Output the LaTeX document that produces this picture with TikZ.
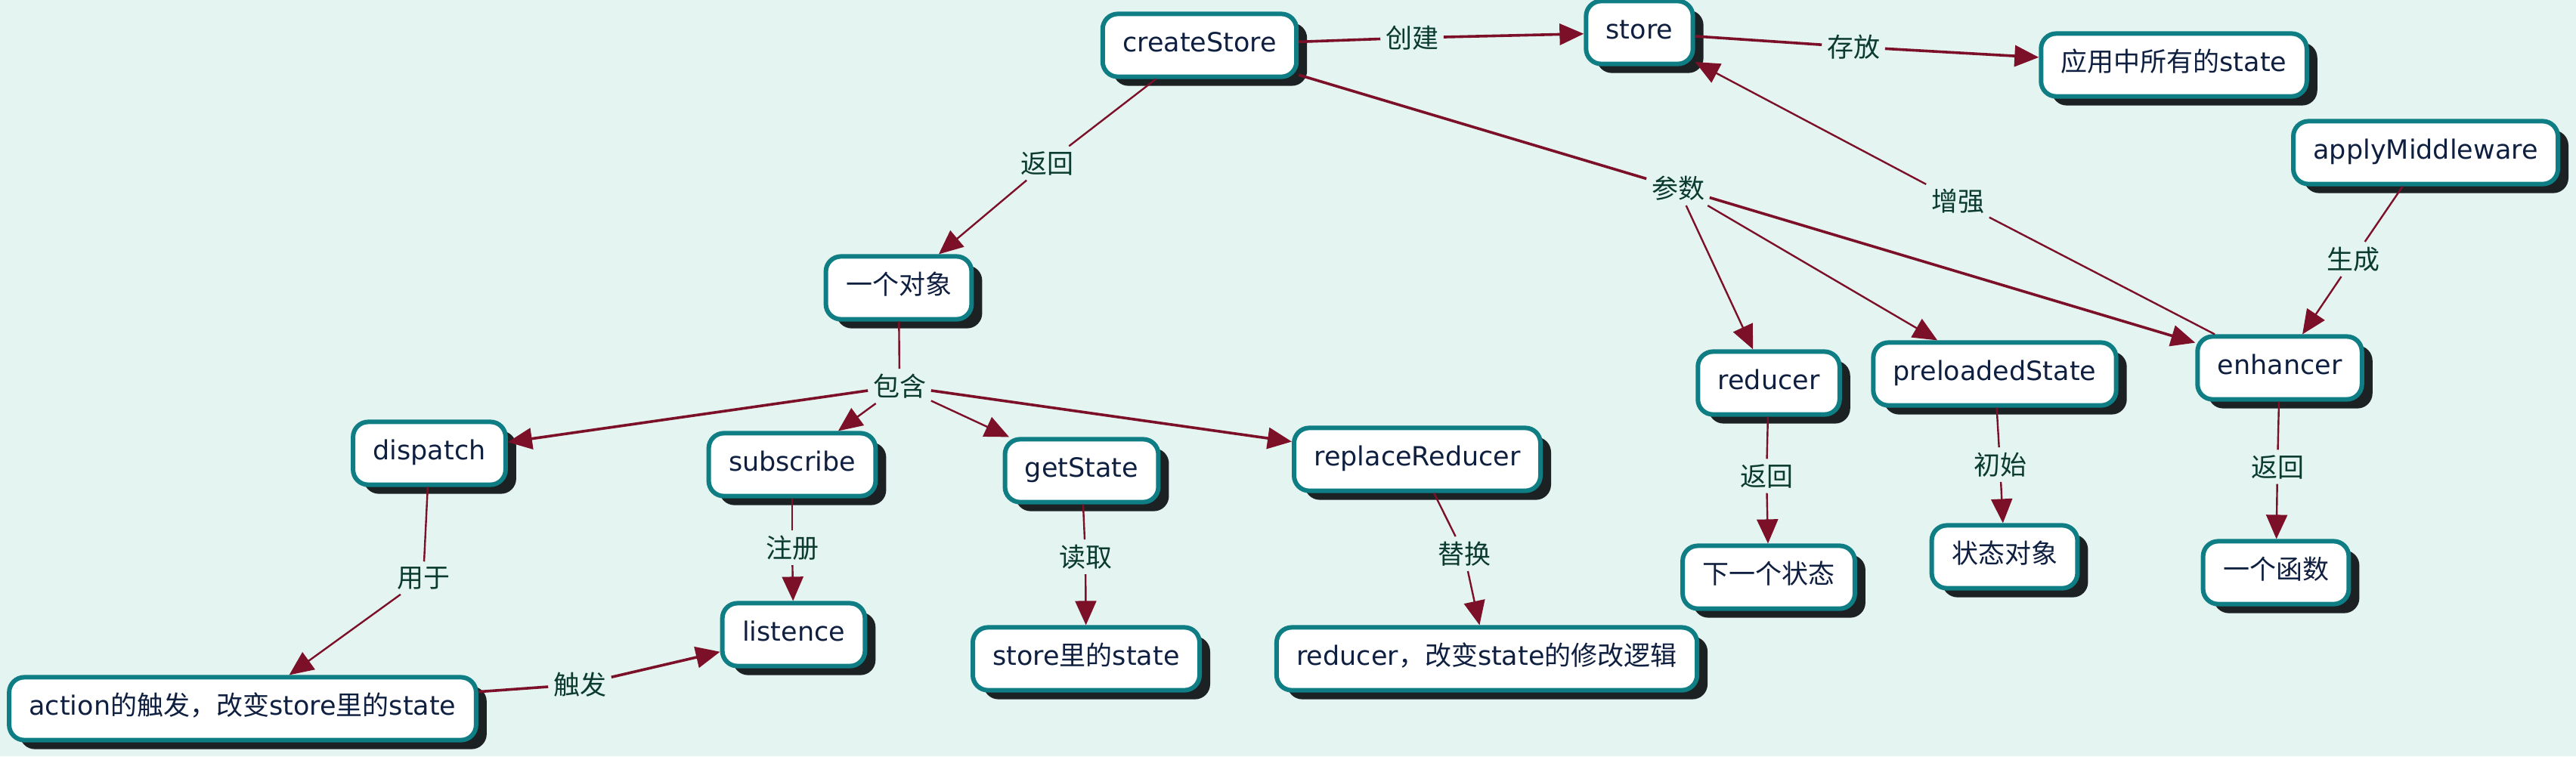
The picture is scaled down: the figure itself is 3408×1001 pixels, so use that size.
\documentclass[tikz,border=0pt]{standalone}
\usepackage{fontspec}
\setmainfont{DejaVu Sans}
\newfontfamily\cjk{Noto Sans CJK SC}
\usetikzlibrary{shadows,arrows.meta}
\definecolor{bg}{HTML}{E4F4F1}
\definecolor{tealb}{HTML}{0F7E84}
\definecolor{shad}{HTML}{1C2224}
\definecolor{edgec}{HTML}{7B1028}
\definecolor{ntext}{HTML}{0F1F3F}
\definecolor{ltext}{HTML}{0B3B2E}
\begin{document}
\begin{tikzpicture}[x=0.25pt,y=-0.25pt,
  box/.style={draw=tealb, line width=1.5pt, fill=white, rounded corners=5pt,
    text=ntext, font=\fontsize{8.75pt}{10pt}\selectfont,
    inner xsep=6.6pt, inner ysep=0pt, minimum height=20.8pt,
    text height=6.4pt, text depth=2pt,
    drop shadow={shadow xshift=3.5pt, shadow yshift=-3pt, fill=shad, opacity=1}},
  lab/.style={text=ltext, font=\fontsize{8.75pt}{10pt}\selectfont\cjk, inner sep=1.5pt},
  ln/.style={draw=edgec, line width=0.6pt},
  lnt/.style={draw=edgec, line width=0.9pt},
  arr/.style={-{Triangle[length=8pt,width=7pt]}},
]
\fill[bg] (0,0) rectangle (3408,1001);
\useasboundingbox (0,0) rectangle (3408,1001);

% nodes
\node[box] (cs) at (1587,60) {createStore};
\node[box] (st) at (2169,43) {store};
\node[box] (app) at (2876,86) {{\cjk 应用中所有的}state};
\node[box] (am) at (3209,202) {applyMiddleware};
\node[box] (obj) at (1189,381) {{\cjk 一个对象}};
\node[box] (dis) at (568,600) {dispatch};
\node[box] (sub) at (1048,615) {subscribe};
\node[box] (gs) at (1431,623) {getState};
\node[box] (rr) at (1875,608) {replaceReducer};
\node[box] (red) at (2340,507) {reducer};
\node[box] (pre) at (2639,495) {preloadedState};
\node[box] (enh) at (3016,487) {enhancer};
\node[box] (lis) at (1050,840) {listence};
\node[box] (act) at (321,938) {action{\cjk 的触发，改变}store{\cjk 里的}state};
\node[box] (sst) at (1437,872) {store{\cjk 里的}state};
\node[box] (rlog) at (1967,872) {reducer{\cjk ，改变}state{\cjk 的修改逻辑}};
\node[box] (next) at (2340,764) {{\cjk 下一个状态}};
\node[box] (sobj) at (2652,737) {{\cjk 状态对象}};
\node[box] (fn) at (3011,758) {{\cjk 一个函数}};

% labels
\node[lab] (l1) at (1868,50) {创建};
\node[lab] (l2) at (2452,62) {存放};
\node[lab] (l3) at (1385,216) {返回};
\node[lab] (l4) at (2220,249) {参数};
\node[lab] (l5) at (2590,266) {增强};
\node[lab] (l6) at (3113,343) {生成};
\node[lab] (l7) at (1190,511) {包含};
\node[lab] (l8) at (560,765) {用于};
\node[lab] (l9) at (1048,725) {注册};
\node[lab] (l10) at (767,906) {触发};
\node[lab] (l11) at (1436,737) {读取};
\node[lab] (l12) at (1937,733) {替换};
\node[lab] (l13) at (2337,630) {返回};
\node[lab] (l14) at (2646,615) {初始};
\node[lab] (l15) at (3013,618) {返回};

% edges
\draw[lnt] (cs) -- (l1);
\draw[lnt,arr] (l1) -- (st);
\draw[lnt] (st) -- (l2);
\draw[lnt,arr] (l2) -- (app);
\draw[ln] (cs) -- (l3);
\draw[ln,arr] (l3) -- (obj);
\draw[lnt] (cs) -- (l4);
\draw[ln,arr] (l4) -- (red);
\draw[ln,arr] (l4) -- (pre);
\draw[lnt,arr] (l4) -- (enh);
\draw[ln] (enh) -- (l5);
\draw[ln,arr] (l5) -- (st);
\draw[ln] (am) -- (l6);
\draw[ln,arr] (l6) -- (enh);
\draw[ln] (obj) -- (l7);
\draw[lnt,arr] (l7) -- (dis);
\draw[ln,arr] (l7) -- (sub);
\draw[ln,arr] (l7) -- (gs);
\draw[lnt,arr] (l7) -- (rr);
\draw[ln] (dis) -- (l8);
\draw[ln,arr] (l8) -- (act);
\draw[ln] (sub) -- (l9);
\draw[ln,arr] (l9) -- (lis);
\draw[lnt] (act) -- (l10);
\draw[lnt,arr] (l10) -- (lis);
\draw[ln] (gs) -- (l11);
\draw[ln,arr] (l11) -- (sst);
\draw[ln] (rr) -- (l12);
\draw[ln,arr] (l12) -- (rlog);
\draw[ln] (red) -- (l13);
\draw[ln,arr] (l13) -- (next);
\draw[ln] (pre) -- (l14);
\draw[ln,arr] (l14) -- (sobj);
\draw[ln] (enh) -- (l15);
\draw[ln,arr] (l15) -- (fn);
\end{tikzpicture}
\end{document}
